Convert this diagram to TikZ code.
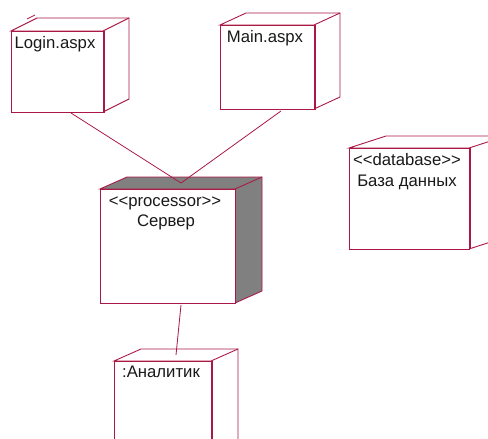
\documentclass[tikz,border=0pt]{standalone}
\usepackage{fontspec}
\setmainfont{Liberation Sans}
\definecolor{umlline}{RGB}{170,25,70}
\definecolor{umlgray}{RGB}{128,128,128}
\tikzset{
  edge3d/.style={draw=umlline,line width=0.9pt,line join=miter},
  frontbox/.style={draw=umlline,line width=0.9pt,fill=white,inner sep=0pt,outer sep=0pt},
  link/.style={draw=umlline,line width=0.8pt},
  lbl/.style={font=\fontsize{16.7}{18}\selectfont,text=black!90,inner sep=0pt,anchor=base},
}
% name, left, top, right, bottom, back dx, back dy, fill
\newcommand{\nodebox}[8]{%
  \path[edge3d,fill=#8] (#2,#3) -- (#2+#6,#3-#7) -- (#4+#6,#3-#7) -- (#4+#6,#5-#7) -- (#4,#5) -- (#4,#3) -- cycle;
  \draw[edge3d] (#4,#3) -- (#4+#6,#3-#7);
  \node[frontbox,minimum width=#4-#2,minimum height=#5-#3,anchor=north west] (#1) at (#2,#3) {};
}
\begin{document}
\begin{tikzpicture}[x=1pt,y=-1pt]
\useasboundingbox (0,0) rectangle (488,439);
\begin{scope}
\clip (0,0) rectangle (488,439);
\nodebox{login}{11}{31}{103}{112}{26}{13}{white}
\nodebox{main}{220}{25}{314}{109}{26}{12}{white}
\nodebox{db}{349}{148}{469}{249}{37}{12}{white}
\nodebox{srv}{100}{189}{235}{303}{27}{12}{umlgray}
\nodebox{ana}{114}{361}{211}{490}{27}{12}{white}
\draw[edge3d] (104.5,31) -- (104.5,113);
\draw[edge3d] (315.5,25) -- (315.5,110);
\draw[edge3d] (470.5,148) -- (470.5,249);
\draw[edge3d] (212.5,361) -- (212.5,439);
\coordinate (hub) at (181,183);
\coordinate (srvtop) at (181,305);
\coordinate (anatop) at (176,355);
\coordinate (loginend) at (71,113);
\coordinate (mainend) at (281,111);
\coordinate (mark1) at (27,19);
\coordinate (mark2) at (35,15);
\draw[link] (loginend) -- (hub);
\draw[link] (mainend) -- (hub);
\draw[link] (srvtop) -- (anatop);
\draw[link] (mark1) -- (mark2);
\end{scope}
\node[lbl] (t1) at (55,48) {Login.aspx};
\node[lbl] (t2) at (265,42) {Main.aspx};
\node[lbl] (t3) at (407,165.5) {<{}<database>{}>};
\node[lbl] (t4) at (407,186) {База данных};
\node[lbl] (t5) at (165,206.5) {<{}<processor>{}>};
\node[lbl] (t6) at (166,226.5) {Сервер};
\node[lbl] (t7) at (161,377) {:Аналитик};
\end{tikzpicture}
\end{document}
